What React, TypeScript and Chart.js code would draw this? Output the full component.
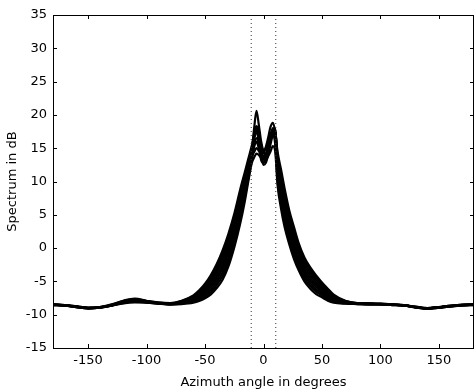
import React, { useEffect, useRef } from "react";
import { Chart, registerables } from "chart.js";
Chart.register(...registerables);

// Azimuth angles (degrees) at which the spectra were read
const angles = [
  -180, -170, -160, -150, -140, -130, -120, -110, -100, -90, -80,
  -70, -60, -55, -50, -45, -40, -35, -30, -25, -20, -16, -13, -10,
  -8, -6, -4, -2, 0, 2, 4, 6, 8, 10,
  12, 15, 18, 22, 26, 30, 35, 40, 45, 50, 55, 60, 70,
  80, 90, 100, 110, 120, 130, 140, 150, 160, 170, 180,
];

// Spectrum in dB, one array per measured curve
const spec1 = [
  -8.5, -8.6, -8.8, -9.0, -8.9, -8.6, -8.1, -7.8, -8.0, -8.25, -8.35,
  -8.03, -7.38, -6.75, -5.9, -4.78, -3.3, -1.45, 0.93, 3.89, 7.46, 10.3, 12.55, 14.75,
  18.0, 20.6, 18.5, 16.0, 14.5, 14.0, 14.8, 16.5, 17.6, 16.5,
  11.38, 8.11, 5.38, 2.51, 0.2, -1.76, -3.65, -4.9, -5.85, -6.56, -7.23, -7.75, -8.18,
  -8.35, -8.4, -8.4, -8.5, -8.6, -8.85, -9.05, -8.9, -8.7, -8.55, -8.5,
];
const spec2 = [
  -8.45, -8.55, -8.75, -8.95, -8.85, -8.5, -7.95, -7.65, -7.95, -8.2, -8.3,
  -7.96, -7.24, -6.55, -5.63, -4.41, -2.85, -0.9, 1.54, 4.52, 8.11, 10.85, 12.98, 15.08,
  17.0, 18.0, 17.0, 15.5, 14.6, 15.2, 16.6, 18.2, 18.8, 17.5,
  14.5, 11.8, 9.0, 5.7, 3.2, 0.8, -1.4, -2.9, -4.1, -5.15, -6.1, -7.0, -7.9,
  -8.25, -8.3, -8.35, -8.45, -8.55, -8.8, -9.0, -8.85, -8.65, -8.5, -8.45,
];
const spec3 = [
  -8.55, -8.65, -8.85, -9.05, -8.95, -8.65, -8.3, -8.15, -8.2, -8.35, -8.45,
  -8.4, -8.2, -7.95, -7.55, -6.95, -6.0, -4.75, -2.75, 0.1, 3.6, 7.0, 10.0, 12.8,
  13.6, 14.2, 14.0, 13.5, 13.0, 13.2, 13.8, 14.5, 15.3, 14.5,
  9.5, 5.9, 3.2, 0.6, -1.6, -3.3, -5.0, -6.1, -6.9, -7.4, -7.9, -8.2, -8.35,
  -8.4, -8.45, -8.45, -8.55, -8.65, -8.9, -9.1, -8.95, -8.75, -8.6, -8.55,
];
const spec4 = [
  -8.5, -8.6, -8.8, -9.0, -8.9, -8.6, -8.15, -7.85, -8.05, -8.3, -8.4,
  -8.09, -7.51, -6.95, -6.18, -5.14, -3.75, -2.0, 0.31, 3.26, 6.82, 9.75, 12.13, 14.43,
  16.3, 17.5, 16.5, 14.5, 13.3, 13.6, 15.0, 17.0, 18.0, 17.8,
  13.25, 10.33, 7.55, 4.43, 2.0, -0.23, -2.3, -3.7, -4.8, -5.71, -6.55, -7.3, -8.01,
  -8.3, -8.35, -8.4, -8.5, -8.6, -8.85, -9.05, -8.9, -8.7, -8.55, -8.5,
];
const spec5 = [
  -8.5, -8.6, -8.8, -9.0, -8.9, -8.6, -8.25, -8.05, -8.15, -8.3, -8.4,
  -8.28, -7.93, -7.55, -7.0, -6.23, -5.1, -3.65, -1.53, 1.36, 4.89, 8.1, 10.85, 13.45,
  15.2, 16.0, 15.0, 14.0, 13.8, 14.2, 15.5, 17.0, 17.4, 16.3,
  10.75, 7.38, 4.65, 1.88, -0.4, -2.28, -4.1, -5.3, -6.2, -6.84, -7.45, -7.9, -8.24,
  -8.35, -8.4, -8.4, -8.5, -8.6, -8.85, -9.05, -8.9, -8.7, -8.55, -8.5,
];
const spec6 = [
  -8.45, -8.55, -8.75, -8.95, -8.85, -8.45, -7.9, -7.6, -7.9, -8.15, -8.25,
  -7.9, -7.1, -6.35, -5.35, -4.05, -2.4, -0.35, 2.15, 5.15, 8.75, 11.4, 13.4, 15.4,
  16.8, 17.6, 16.0, 13.8, 12.5, 12.8, 14.0, 15.6, 17.0, 17.6,
  13.88, 11.06, 8.28, 5.06, 2.6, 0.29, -1.85, -3.3, -4.45, -5.43, -6.33, -7.15, -7.96,
  -8.25, -8.3, -8.35, -8.45, -8.55, -8.8, -9.0, -8.85, -8.65, -8.5, -8.45,
];
const spec7 = [
  -8.55, -8.65, -8.85, -9.05, -8.95, -8.65, -8.2, -7.95, -8.15, -8.35, -8.45,
  -8.21, -7.79, -7.35, -6.73, -5.86, -4.65, -3.1, -0.91, 1.99, 5.53, 8.65, 11.28, 13.78,
  14.4, 15.0, 14.6, 14.0, 14.3, 15.0, 16.0, 16.8, 17.0, 15.6,
  10.13, 6.64, 3.93, 1.24, -1.0, -2.79, -4.55, -5.7, -6.55, -7.12, -7.68, -8.05, -8.29,
  -8.4, -8.45, -8.45, -8.55, -8.65, -8.9, -9.1, -8.95, -8.75, -8.6, -8.55,
];
const spec8 = [
  -8.5, -8.6, -8.8, -9.0, -8.9, -8.55, -8.05, -7.75, -8.0, -8.25, -8.35,
  -8.15, -7.65, -7.15, -6.45, -5.5, -4.2, -2.55, -0.3, 2.63, 6.18, 9.2, 11.7, 14.1,
  17.2, 18.3, 17.5, 15.0, 13.6, 13.9, 15.2, 16.8, 17.8, 17.9,
  12.63, 9.59, 6.83, 3.79, 1.4, -0.74, -2.75, -4.1, -5.15, -6.0, -6.78, -7.45, -8.07,
  -8.3, -8.35, -8.4, -8.5, -8.6, -8.85, -9.05, -8.9, -8.7, -8.55, -8.5,
];
const spec9 = [
  -8.55, -8.65, -8.85, -9.05, -8.95, -8.6, -8.2, -8.0, -8.1, -8.3, -8.45,
  -8.34, -8.06, -7.75, -7.28, -6.59, -5.55, -4.2, -2.14, 0.73, 4.24, 7.55, 10.43, 13.13,
  15.5, 16.5, 15.5, 13.2, 12.8, 13.5, 14.5, 16.0, 17.2, 17.0,
  12.0, 8.85, 6.1, 3.15, 0.8, -1.25, -3.2, -4.5, -5.5, -6.28, -7.0, -7.6, -8.13,
  -8.35, -8.4, -8.4, -8.5, -8.6, -8.85, -9.05, -8.9, -8.7, -8.55, -8.5,
];
const spectra = [spec1, spec2, spec3, spec4, spec5, spec6, spec7, spec8, spec9];

// Dotted reference lines (degrees)
const markerAngles = [-10.5, 10.5];

const xTickValues = [-150, -100, -50, 0, 50, 100, 150];
const yTickValues = [-15, -10, -5, 0, 5, 10, 15, 20, 25, 30, 35];
const xRange = [-180, 180];
const yRange = [-15, 35];

export default function App() {
  const ref = useRef<HTMLCanvasElement>(null);

  useEffect(() => {
    document.body.style.margin = "0";
    const canvas = ref.current;
    if (!canvas) return;

    const framePlugin = {
      id: "frameTicks",
      afterDraw(chart: any) {
        const { ctx, chartArea } = chart;
        const { left, right, top, bottom } = chartArea;
        const xs = chart.scales.x;
        const ys = chart.scales.y;
        const len = 4;
        ctx.save();
        ctx.strokeStyle = "#000";
        ctx.lineWidth = 1;
        ctx.beginPath();
        xTickValues.forEach((v) => {
          const px = Math.round(xs.getPixelForValue(v)) + 0.5;
          ctx.moveTo(px, bottom);
          ctx.lineTo(px, bottom - len);
          ctx.moveTo(px, top);
          ctx.lineTo(px, top + len);
        });
        yTickValues.forEach((v) => {
          const py = Math.round(ys.getPixelForValue(v)) + 0.5;
          ctx.moveTo(left, py);
          ctx.lineTo(left + len, py);
          ctx.moveTo(right, py);
          ctx.lineTo(right - len, py);
        });
        ctx.stroke();
        ctx.strokeRect(
          Math.round(left) + 0.5,
          Math.round(top) + 0.5,
          Math.round(right - left) - 1,
          Math.round(bottom - top)
        );
        ctx.restore();
      },
    };

    const datasets: any[] = [];
    markerAngles.forEach((a) => {
      datasets.push({
        data: [
          { x: a, y: yRange[0] },
          { x: a, y: yRange[1] },
        ],
        borderColor: "#333",
        borderWidth: 1,
        borderDash: [1, 3],
        pointRadius: 0,
        fill: false,
      });
    });
    spectra.forEach((s) => {
      datasets.push({
        data: angles.map((a, i) => ({ x: a, y: s[i] })),
        borderColor: "#000",
        borderWidth: 2.2,
        pointRadius: 0,
        fill: false,
        cubicInterpolationMode: "monotone",
      });
    });

    const font = { family: "'DejaVu Sans', sans-serif", size: 13 };

    const chart = new Chart(canvas, {
      type: "line",
      data: { datasets },
      options: {
        animation: false,
        responsive: false,
        layout: { padding: { top: 15, right: 1, left: 0, bottom: 0 } },
        plugins: { legend: { display: false }, tooltip: { enabled: false } },
        scales: {
          x: {
            type: "linear",
            min: xRange[0],
            max: xRange[1],
            grid: { display: false, drawTicks: false },
            border: { display: false },
            afterBuildTicks: (scale: any) => {
              scale.ticks = xTickValues.map((v) => ({ value: v }));
            },
            afterFit: (scale: any) => {
              scale.height = 42;
            },
            ticks: {
              autoSkip: false,
              maxRotation: 0,
              color: "#000",
              font,
              padding: 5,
            },
            title: {
              display: true,
              text: "Azimuth angle in degrees",
              color: "#000",
              font,
              padding: { top: 0, bottom: 0 },
            },
          },
          y: {
            type: "linear",
            min: yRange[0],
            max: yRange[1],
            grid: { display: false, drawTicks: false },
            border: { display: false },
            afterBuildTicks: (scale: any) => {
              scale.ticks = yTickValues.map((v) => ({ value: v }));
            },
            afterFit: (scale: any) => {
              scale.width = 53;
            },
            ticks: {
              autoSkip: false,
              color: "#000",
              font,
              padding: 6,
            },
            title: {
              display: true,
              text: "Spectrum in dB",
              color: "#000",
              font,
              padding: { top: 5, bottom: 0 },
            },
          },
        },
      },
      plugins: [framePlugin],
    } as any);

    return () => chart.destroy();
  }, []);

  return (
    <div style={{ position: "relative", width: 475, height: 390 }}>
      <canvas ref={ref} width={475} height={390} style={{ display: "block" }} />
    </div>
  );
}
